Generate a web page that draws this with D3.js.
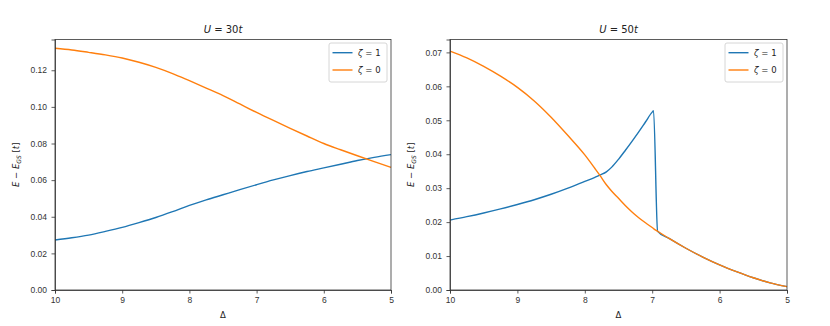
<!DOCTYPE html>
<html>
<head>
<meta charset="utf-8">
<script src="https://cdn.jsdelivr.net/npm/d3@7"></script>
<style>
  body { margin: 0; background: #fff; }
  svg { font-family: "DejaVu Sans", sans-serif; }
  .axis path, .axis line { stroke: #333; stroke-width: 0.8; }
  .axis text { fill: #333; font-size: 8.5px; }
</style>
</head>
<body>
<svg id="chart" width="830" height="326"></svg>
<script>
  // left panel, U = 30t
  var deltaA   = [10, 9.75, 9.5, 9.25, 9, 8.75, 8.5, 8.25, 8, 7.75, 7.5, 7.25, 7, 6.75, 6.5, 6.25, 6, 5.75, 5.5, 5.25, 5];
  var zeta1A   = [0.0273, 0.0285, 0.0300, 0.0320, 0.0342, 0.0368, 0.0396, 0.0428, 0.0462, 0.0492, 0.0520, 0.0548, 0.0575, 0.0601, 0.0625, 0.0647, 0.0667, 0.0687, 0.0707, 0.0724, 0.0739];
  var zeta0A   = [0.1320, 0.1311, 0.1298, 0.1284, 0.1267, 0.1244, 0.1216, 0.1182, 0.1143, 0.1103, 0.1062, 0.1016, 0.0970, 0.0926, 0.0883, 0.0841, 0.0800, 0.0766, 0.0733, 0.0701, 0.0670];
  var yTicksA  = [0, 0.02, 0.04, 0.06, 0.08, 0.10, 0.12];

  // right panel, U = 50t
  var deltaB   = [10, 9.75, 9.5, 9.25, 9, 8.75, 8.5, 8.25, 8, 7.85, 7.77, 7.68, 7.6, 7.5, 7.4, 7.3, 7.2, 7.1, 7.0, 6.98, 6.92, 6.75, 6.5, 6.25, 6, 5.75, 5.5, 5.25, 5];
  var zeta1B   = [0.0206, 0.0216, 0.0227, 0.0239, 0.0252, 0.0266, 0.0282, 0.0300, 0.0320, 0.0332, 0.0339, 0.0348, 0.0362, 0.0385, 0.0411, 0.0438, 0.0466, 0.0495, 0.0524, 0.0528, 0.0173, 0.0152, 0.0123, 0.0097, 0.0074, 0.0054, 0.0036, 0.0021, 0.0010];
  var zeta0B   = [0.0704, 0.0684, 0.0659, 0.0630, 0.0597, 0.0557, 0.0509, 0.0455, 0.0398, 0.0358, 0.0336, 0.0310, 0.0291, 0.0270, 0.0249, 0.0230, 0.0213, 0.0198, 0.0184, 0.0181, 0.0173, 0.0152, 0.0123, 0.0097, 0.0074, 0.0054, 0.0036, 0.0021, 0.0010];
  var yTicksB  = [0, 0.01, 0.02, 0.03, 0.04, 0.05, 0.06, 0.07];

  var xTicks   = [10, 9, 8, 7, 6, 5];
  var seriesNames = ["1", "0"];
  var colors   = ["#1f77b4", "#ff7f0e"];

  var svg = d3.select("#chart");

  drawPanel({left: 55, right: 391, top: 39.5, bottom: 290, ymax: 0.1368, title: "30",
             delta: deltaA, series: [zeta1A, zeta0A], yTicks: yTicksA, labelX: 19});
  drawPanel({left: 450, right: 787, top: 39.5, bottom: 290, ymax: 0.0738, title: "50",
             delta: deltaB, series: [zeta1B, zeta0B], yTicks: yTicksB, labelX: 414});

  function drawPanel(p) {
    var x = d3.scaleLinear().domain([10, 5]).range([p.left, p.right]);
    var y = d3.scaleLinear().domain([0, p.ymax]).range([p.bottom, p.top]);

    var g = svg.append("g");

    // lines
    var line = d3.line()
      .x(function(d) { return x(d[0]); })
      .y(function(d) { return y(d[1]); })
      .curve(d3.curveMonotoneX);

    p.series.forEach(function(vals, i) {
      var pts = p.delta.map(function(dl, k) { return [dl, vals[k]]; });
      g.append("path")
        .datum(pts)
        .attr("fill", "none")
        .attr("stroke", colors[i])
        .attr("stroke-width", 1.4)
        .attr("d", line);
    });

    // axes
    g.append("g")
      .attr("class", "axis")
      .attr("transform", "translate(0," + p.bottom + ")")
      .call(d3.axisBottom(x).tickValues(xTicks).tickFormat(d3.format("d")).tickSizeOuter(0).tickSize(3.5).tickPadding(3.5));

    g.append("g")
      .attr("class", "axis")
      .attr("transform", "translate(" + p.left + ",0)")
      .call(d3.axisLeft(y).tickValues(p.yTicks).tickFormat(d3.format(".2f")).tickSizeOuter(0).tickSize(3.5).tickPadding(4.5));

    // frame
    g.append("rect")
      .attr("x", p.left).attr("y", p.top)
      .attr("width", p.right - p.left).attr("height", p.bottom - p.top)
      .attr("fill", "none").attr("stroke", "#333").attr("stroke-width", 0.8);

    // title
    var t = g.append("text")
      .attr("x", (p.left + p.right) / 2).attr("y", 33)
      .attr("text-anchor", "middle").attr("font-size", "10px").attr("fill", "#222");
    t.append("tspan").attr("font-style", "italic").text("U");
    t.append("tspan").text(" = " + p.title);
    t.append("tspan").attr("font-style", "italic").text("t");

    // x label
    g.append("text")
      .attr("x", (p.left + p.right) / 2).attr("y", 318)
      .attr("text-anchor", "middle").attr("font-size", "8.5px").attr("fill", "#222")
      .text("Δ");

    // y label
    var yl = g.append("text")
      .attr("transform", "translate(" + p.labelX + "," + ((p.top + p.bottom) / 2) + ") rotate(-90)")
      .attr("text-anchor", "middle").attr("font-size", "8.5px").attr("fill", "#222");
    yl.append("tspan").attr("font-style", "italic").text("E");
    yl.append("tspan").text(" − ");
    yl.append("tspan").attr("font-style", "italic").text("E");
    yl.append("tspan").attr("font-style", "italic").attr("font-size", "6px").attr("dy", 2).text("GS");
    yl.append("tspan").attr("dy", -2).text(" [");
    yl.append("tspan").attr("font-style", "italic").text("t");
    yl.append("tspan").text("]");

    // legend
    var lx = p.right - 62, ly = 43;
    var leg = g.append("g").attr("transform", "translate(" + lx + "," + ly + ")");
    leg.append("rect")
      .attr("width", 58).attr("height", 39).attr("rx", 2)
      .attr("fill", "#fff").attr("fill-opacity", 0.8)
      .attr("stroke", "#ccc").attr("stroke-width", 0.8);
    seriesNames.forEach(function(name, i) {
      var yy = 9.7 + i * 17.3;
      leg.append("line")
        .attr("x1", 3.5).attr("x2", 23.5).attr("y1", yy).attr("y2", yy)
        .attr("stroke", colors[i]).attr("stroke-width", 1.4);
      var tx = leg.append("text")
        .attr("x", 29).attr("y", yy + 3)
        .attr("font-size", "8.5px").attr("fill", "#222");
      tx.append("tspan").attr("font-style", "italic").text("ζ");
      tx.append("tspan").text(" = " + name);
    });
  }
</script>
</body>
</html>
